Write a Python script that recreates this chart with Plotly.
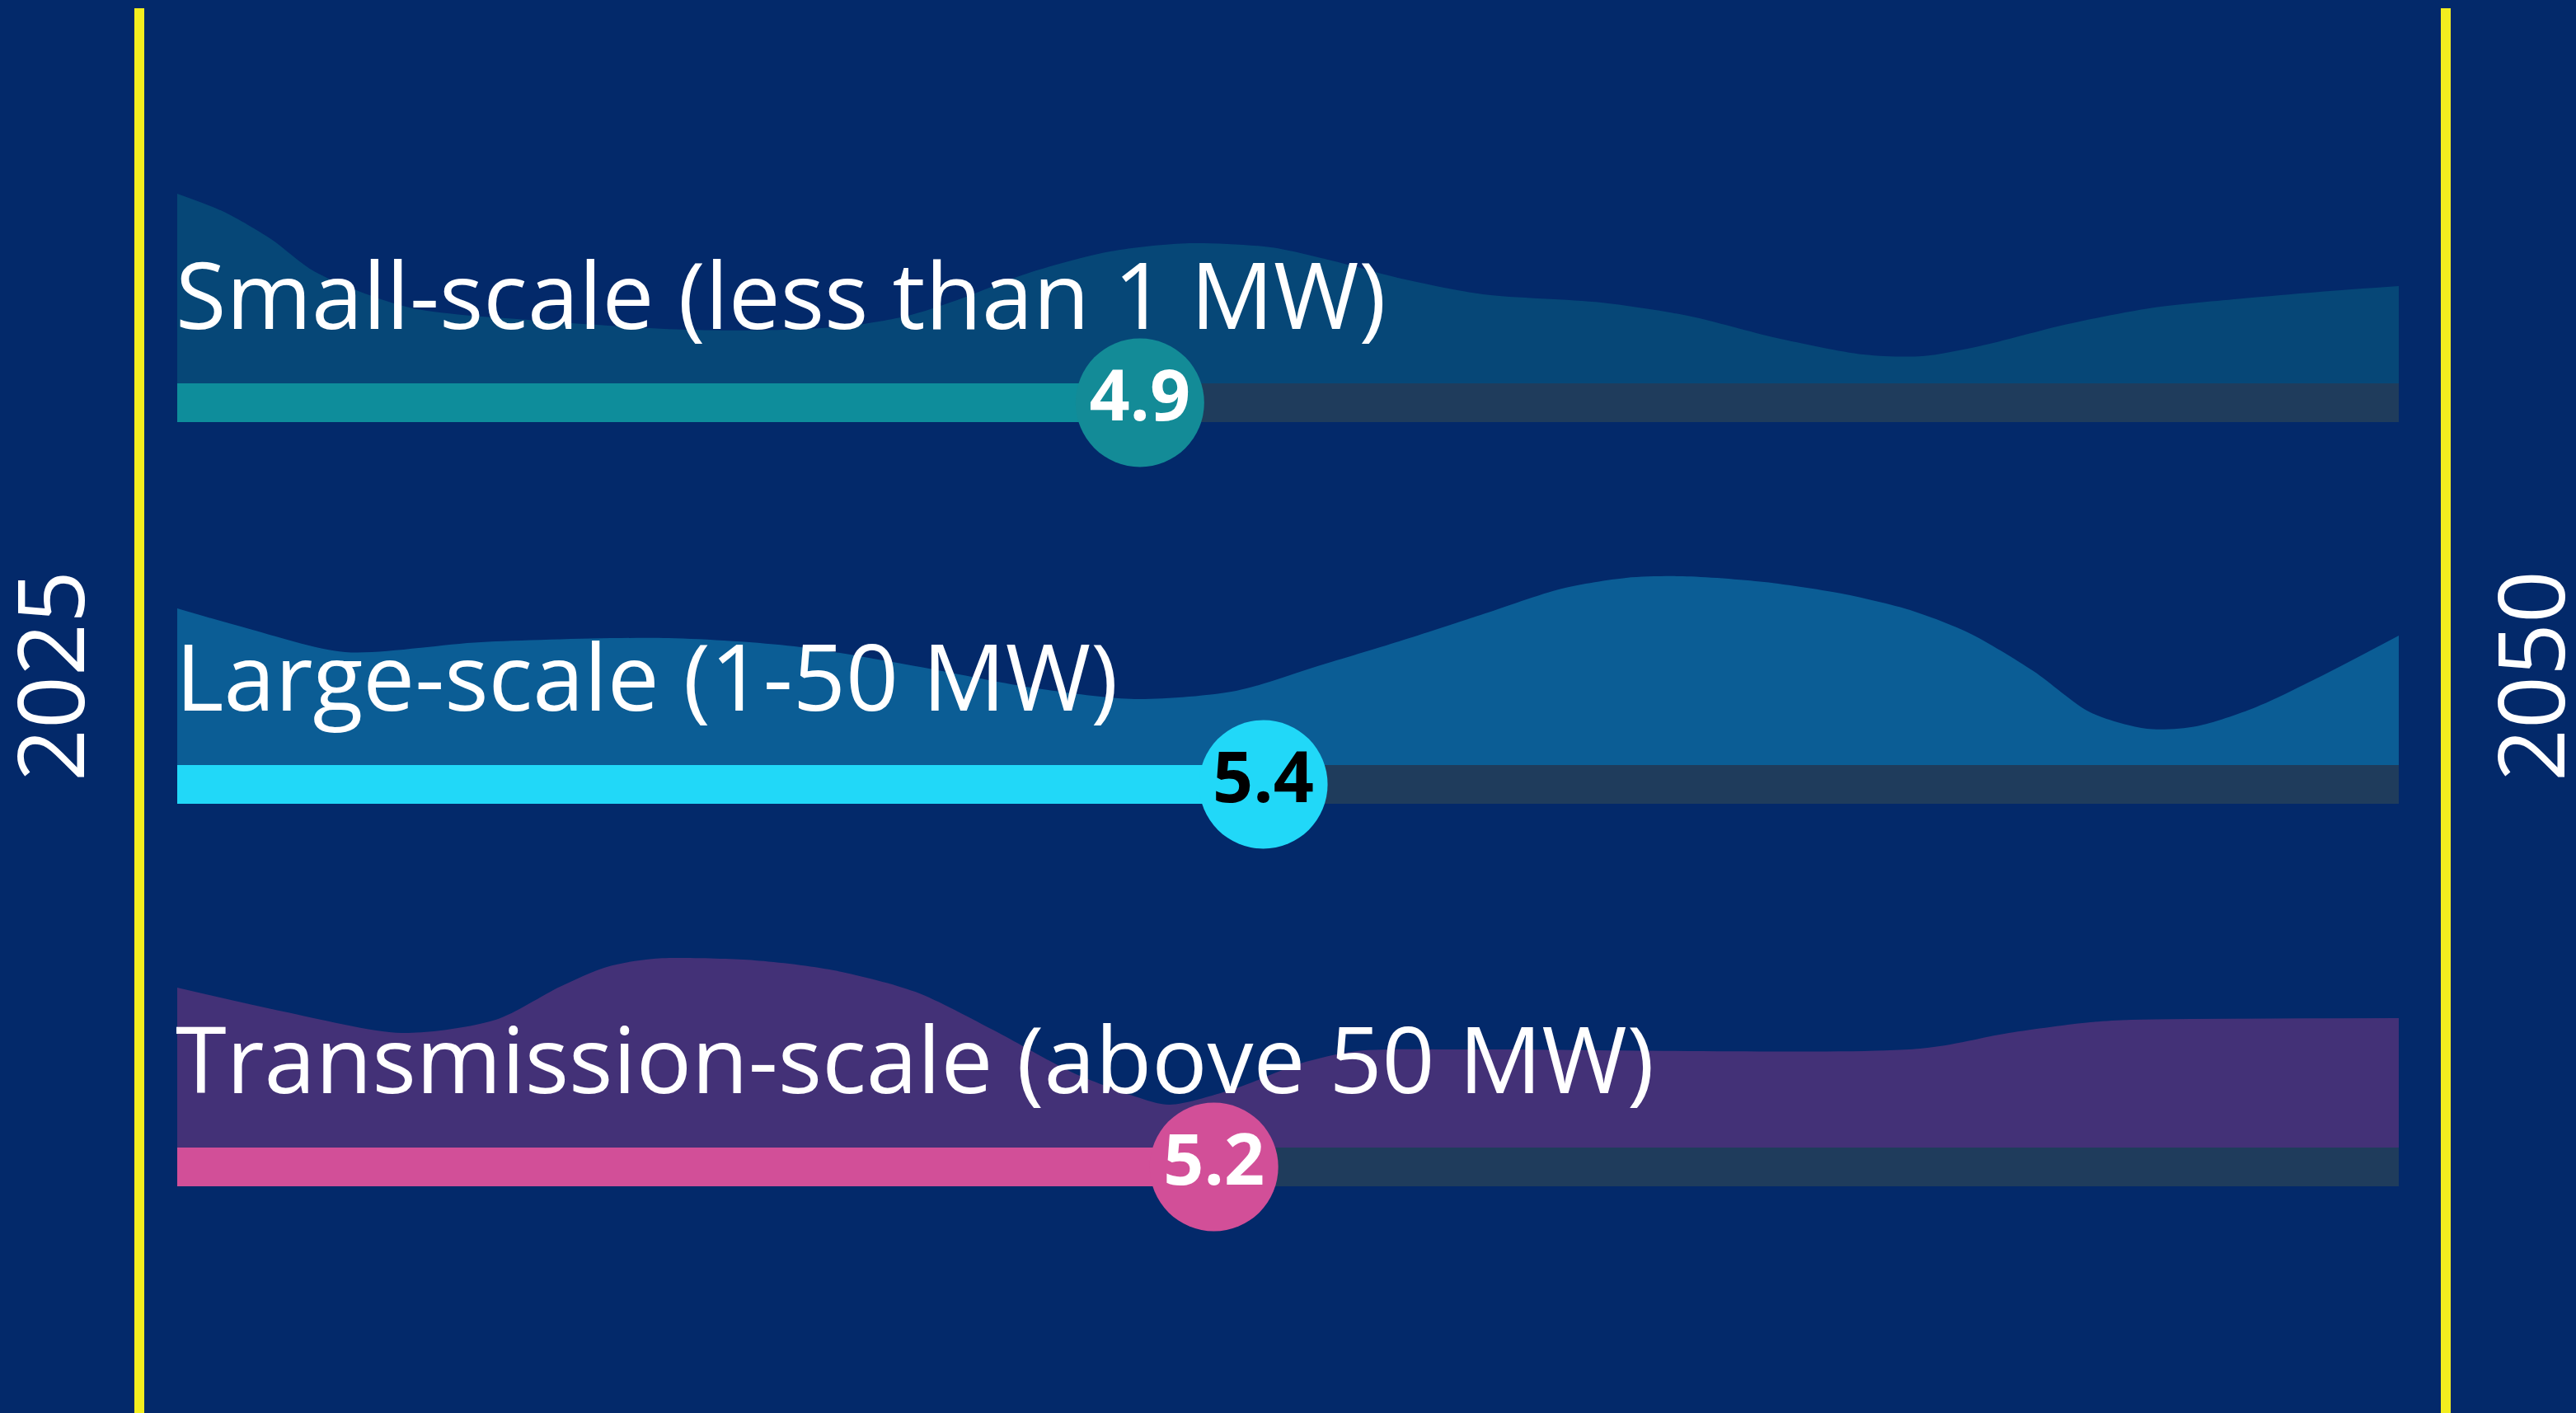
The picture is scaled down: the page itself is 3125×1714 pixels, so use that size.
import plotly.graph_objects as go

# ---- data -------------------------------------------------------------
CATEGORIES = [
    "Small-scale (less than 1 MW)",
    "Large-scale (1-50 MW)",
    "Transmission-scale (above 50 MW)",
]
VALUES = [4.9, 5.4, 5.2]
SCALE_MIN, SCALE_MAX = 1, 10
YEARS = ["2025", "2050"]

# distribution silhouettes drawn above each track (x on the 1-10 scale, height above track)
WAVE_SMALL_X = [1.00, 1.19, 1.38, 1.56, 1.94, 2.51, 3.07, 3.45, 3.73, 3.96, 4.15, 4.46, 4.78,
                5.10, 5.43, 5.69, 5.96, 6.29, 6.77, 7.12, 7.48, 7.83, 8.07, 8.30, 8.66, 9.01,
                9.37, 9.72, 10.00]
WAVE_SMALL_H = [230, 208, 175, 135, 92, 75, 65, 65, 70, 82, 100, 135, 160,
                170, 165, 148, 127, 108, 98, 82, 55, 35, 33, 45, 72, 92,
                103, 112, 118]

WAVE_LARGE_X = [1.00, 1.27, 1.68, 2.23, 2.99, 3.50, 3.99, 4.46, 4.88, 5.29, 5.62, 5.95, 6.28,
                6.61, 6.87, 7.10, 7.43, 7.76, 8.03, 8.26, 8.52, 8.75, 8.98, 9.18, 9.42, 9.68,
                10.00]
WAVE_LARGE_H = [190, 167, 137, 149, 154, 144, 120, 94, 80, 90, 120, 150, 182,
                214, 227, 229, 222, 207, 187, 160, 114, 64, 44, 47, 70, 107,
                157]

WAVE_TRANS_X = [1.00, 1.43, 1.91, 2.29, 2.55, 2.74, 2.93, 3.34, 3.66, 3.99, 4.31, 4.62, 4.88,
                5.02, 5.29, 5.55, 5.78, 6.28, 8.06, 8.42, 8.75, 8.92, 10.00]
WAVE_TRANS_H = [194, 165, 139, 155, 195, 219, 229, 227, 215, 189, 142, 92, 62,
                52, 72, 102, 117, 119, 120, 139, 152, 155, 157]

WAVES = [(WAVE_SMALL_X, WAVE_SMALL_H), (WAVE_LARGE_X, WAVE_LARGE_H), (WAVE_TRANS_X, WAVE_TRANS_H)]

# ---- styling / layout -------------------------------------------------
W, H = 3125, 1714
BG = "#03296a"
TRACK = "#1f3c5c"
YELLOW = "#f3ee1f"
WAVE_COLORS = ["#064777", "#0b5d95", "#433177"]
BAR_COLORS = ["#0e8d9b", "#21d8f8", "#d24f98"]
DOT_COLORS = ["#138b97", "#21d8f8", "#d24f98"]
DOT_TEXT = ["white", "black", "white"]
FONT = "Open Sans"

MARGIN_X = 215          # track spans the plot area between these margins
BAND_BASE = [1249, 786, 322]   # y of each track's top edge (y axis in px units, 0 at bottom)
TRACK_H = 47
DOT_SIZE = 156

fig = go.Figure()

# tracks and filled bars
for i, v in enumerate(VALUES):
    yc = BAND_BASE[i] - TRACK_H / 2
    fig.add_trace(go.Bar(orientation="h", y=[yc], x=[SCALE_MAX - SCALE_MIN], base=[SCALE_MIN],
                         width=TRACK_H, marker=dict(color=TRACK, line=dict(width=0)),
                         hoverinfo="skip", showlegend=False))
    fig.add_trace(go.Bar(orientation="h", y=[yc], x=[v - SCALE_MIN], base=[SCALE_MIN],
                         width=TRACK_H, marker=dict(color=BAR_COLORS[i], line=dict(width=0)),
                         hoverinfo="skip", showlegend=False))

# silhouettes
for i, (wx, wh) in enumerate(WAVES):
    base = BAND_BASE[i]
    fig.add_trace(go.Scatter(x=[SCALE_MIN, SCALE_MAX], y=[base, base], mode="lines",
                             line=dict(width=0), hoverinfo="skip", showlegend=False))
    fig.add_trace(go.Scatter(x=wx, y=[base + h for h in wh], mode="lines",
                             line=dict(width=0, shape="spline", smoothing=0.8),
                             fill="tonexty", fillcolor=WAVE_COLORS[i],
                             hoverinfo="skip", showlegend=False))

# value dots
for i, v in enumerate(VALUES):
    yc = BAND_BASE[i] - TRACK_H / 2
    fig.add_trace(go.Scatter(x=[v], y=[yc], mode="markers+text",
                             marker=dict(size=DOT_SIZE, color=DOT_COLORS[i], line=dict(width=0)),
                             text=[f"{v:.1f}"], textposition="middle center",
                             textfont=dict(family=FONT, size=86, color=DOT_TEXT[i], weight="bold"),
                             hoverinfo="skip", showlegend=False, cliponaxis=False))

annotations = []
for i, name in enumerate(CATEGORIES):
    annotations.append(dict(x=SCALE_MIN, y=BAND_BASE[i] + 110, xref="x", yref="y",
                            text=name, showarrow=False, xanchor="left", yanchor="middle",
                            xshift=-4, font=dict(family=FONT, size=112, color="white")))

plot_w = W - 2 * MARGIN_X


def px_to_paper_x(px):
    return (px - MARGIN_X) / plot_w


def px_to_paper_y(py):
    return (H - py) / H


for px_line, px_text, year in [(169, 58, YEARS[0]), (2967, 3067, YEARS[1])]:
    annotations.append(dict(x=px_to_paper_x(px_text), y=px_to_paper_y(820), xref="paper",
                            yref="paper", text=year, showarrow=False, textangle=-90,
                            xanchor="center", yanchor="middle",
                            font=dict(family=FONT, size=112, color="white")))

shapes = []
for px_line in (169, 2967):
    shapes.append(dict(type="line", xref="paper", yref="paper",
                       x0=px_to_paper_x(px_line), x1=px_to_paper_x(px_line),
                       y0=-0.01, y1=px_to_paper_y(10),
                       line=dict(color=YELLOW, width=12)))

fig.update_layout(
    width=W, height=H,
    margin=dict(l=MARGIN_X, r=MARGIN_X, t=0, b=0, pad=0),
    paper_bgcolor=BG, plot_bgcolor=BG,
    barmode="overlay", bargap=0,
    showlegend=False, hovermode=False,
    xaxis=dict(range=[SCALE_MIN, SCALE_MAX], visible=False, fixedrange=True),
    yaxis=dict(range=[0, H], visible=False, fixedrange=True),
    annotations=annotations, shapes=shapes,
)

fig.write_html("out.html", config={"displayModeBar": False})
